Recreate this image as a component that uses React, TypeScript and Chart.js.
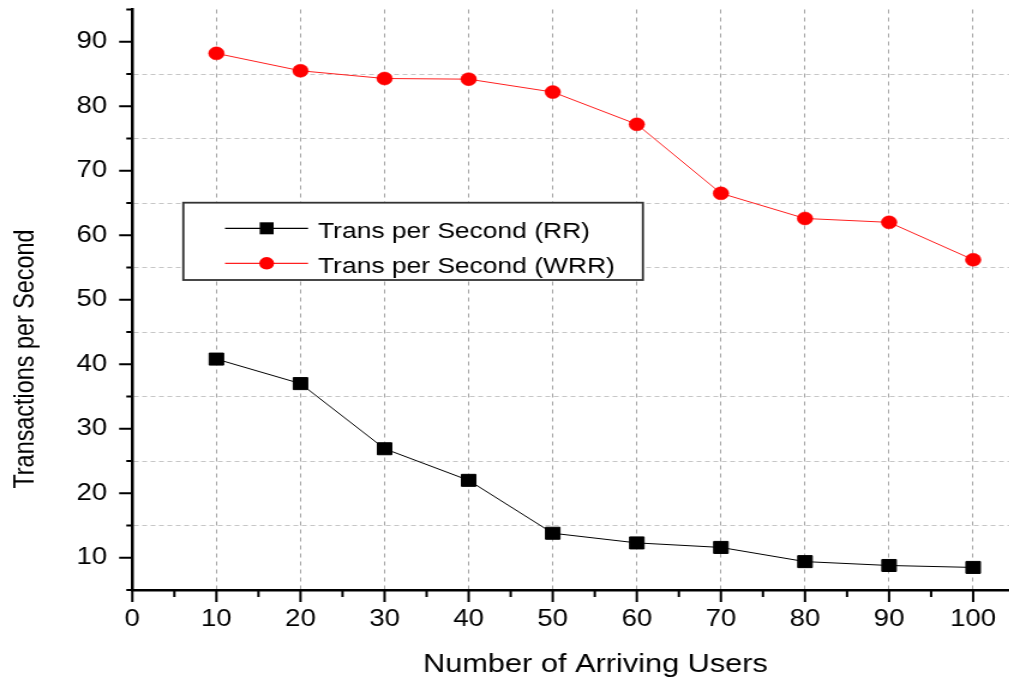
import { useEffect, useRef } from 'react';
import { Chart, registerables } from 'chart.js';

Chart.register(...registerables);

// ---- data ----
const arrivingUsers = [10, 20, 30, 40, 50, 60, 70, 80, 90, 100];
const transPerSecondRR = [40.8, 37.0, 26.9, 22.0, 13.8, 12.3, 11.6, 9.4, 8.8, 8.5];
const transPerSecondWRR = [88.2, 85.5, 84.3, 84.2, 82.2, 77.2, 66.5, 62.6, 62.0, 56.2];
const seriesNames = ['Trans per Second (RR)', 'Trans per Second (WRR)'];

const xTickLabels = ['0', '10', '20', '30', '40', '50', '60', '70', '80', '90', '100'];
const yTickLabels = ['10', '20', '30', '40', '50', '60', '70', '80', '90'];
const xAxisTitle = 'Number of Arriving Users';
const yAxisTitle = 'Transactions per Second';

// ---- layout ----
const STRETCH_X = 1.2; // the whole figure is drawn horizontally stretched
const CANVAS_W = 856;
const CANVAS_H = 681;
const FONT = '"Liberation Sans", Arial, Helvetica, sans-serif';

const toPoints = (ys: number[]) => arrivingUsers.map((x, i) => ({ x, y: ys[i] }));

// keep the plot area exactly where the layout padding puts it
const noScalePadding = (s: any) => {
  s.paddingTop = 0;
  s.paddingBottom = 0;
  s.paddingLeft = 0;
  s.paddingRight = 0;
};

// Tick marks (long majors, short minors), axis titles and a boxed legend.
const axisDecor = {
  id: 'axisDecor',
  afterDatasetsDraw(chart: any) {
    const { ctx } = chart;
    const ds = chart.data.datasets;
    ctx.save();
    const bx = 152.75;
    const by = 202.7;
    const bw = 383;
    const bh = 77.3;
    ctx.fillStyle = '#ffffff';
    ctx.fillRect(bx, by, bw, bh);
    ctx.strokeStyle = '#333333';
    ctx.lineWidth = 1.8;
    ctx.strokeRect(bx, by, bw, bh);

    const rows = [
      { y: 228.3, ty: 231.5 },
      { y: 263.3, ty: 266.5 },
    ];
    rows.forEach((r, i) => {
      const d = ds[i];
      ctx.strokeStyle = d.borderColor;
      ctx.lineWidth = 1.2;
      ctx.beginPath();
      ctx.moveTo(187.5, r.y);
      ctx.lineTo(256.7, r.y);
      ctx.stroke();
      ctx.fillStyle = d.pointBackgroundColor;
      if (i === 0) {
        ctx.fillRect(222.2 - 5.8, r.y - 6, 11.6, 12);
      } else {
        ctx.beginPath();
        ctx.arc(222.2, r.y, 6.2, 0, Math.PI * 2);
        ctx.fill();
      }
      ctx.fillStyle = '#000000';
      ctx.font = `22px ${FONT}`;
      ctx.textBaseline = 'middle';
      ctx.textAlign = 'left';
      ctx.fillText(d.label, 265, r.ty);
    });
    ctx.restore();
  },
  afterDraw(chart: any) {
    const { ctx } = chart;
    const x = chart.scales.x;
    const y = chart.scales.y;
    ctx.save();
    ctx.strokeStyle = '#000000';
    ctx.lineWidth = 2;
    ctx.beginPath();
    for (let v = x.min; v <= x.max + 1e-6; v += 5) {
      const px = x.getPixelForValue(v);
      const len = Math.round(v) % 10 === 0 ? 12 : 7;
      ctx.moveTo(px, x.top);
      ctx.lineTo(px, x.top + len);
    }
    for (let v = y.min; v <= y.max + 1e-6; v += 5) {
      const py = y.getPixelForValue(v);
      const len = Math.round(v) % 10 === 0 ? 11 : 5;
      ctx.moveTo(y.right, py);
      ctx.lineTo(y.right - len, py);
    }
    ctx.stroke();

    ctx.fillStyle = '#000000';
    ctx.textAlign = 'center';
    ctx.textBaseline = 'alphabetic';
    ctx.font = `25.6px ${FONT}`;
    ctx.fillText(xAxisTitle, 496.2, 671.7);

    ctx.translate(27.8, 359);
    ctx.rotate(-Math.PI / 2);
    ctx.font = `23.4px ${FONT}`;
    ctx.fillText(yAxisTitle, 0, 0);
    ctx.restore();
  },
};

export default function App() {
  const canvasRef = useRef<HTMLCanvasElement>(null);

  useEffect(() => {
    const canvas = canvasRef.current;
    if (!canvas) return;
    const chart = new Chart(canvas, {
      type: 'line',
      data: {
        datasets: [
          {
            label: seriesNames[0],
            data: toPoints(transPerSecondRR),
            borderColor: '#000000',
            borderWidth: 1,
            pointStyle: 'rect',
            pointRadius: 8.5,
            pointBorderWidth: 1,
            pointBackgroundColor: '#000000',
            pointBorderColor: '#000000',
            tension: 0,
          },
          {
            label: seriesNames[1],
            data: toPoints(transPerSecondWRR),
            borderColor: '#ff2020',
            borderWidth: 1,
            pointStyle: 'circle',
            pointRadius: 6.5,
            pointBorderWidth: 0.5,
            pointBackgroundColor: '#ff0000',
            pointBorderColor: '#ff0000',
            tension: 0,
          },
        ],
      },
      options: {
        responsive: false,
        animation: false,
        events: [],
        layout: { padding: { top: 9, right: 10, left: 0, bottom: 0 } },
        plugins: {
          legend: { display: false },
          tooltip: { enabled: false },
        },
        scales: {
          x: {
            type: 'linear',
            min: 0,
            max: 105,
            ticks: {
              stepSize: 5,
              autoSkip: false,
              maxRotation: 0,
              minRotation: 0,
              padding: 15.5,
              color: '#000000',
              font: { family: FONT, size: 23 },
              callback: (v: any) => {
                const s = String(v);
                return xTickLabels.includes(s) ? s : '';
              },
            },
            grid: {
              drawTicks: false,
              lineWidth: 1,
              color: (c: any) => {
                const v = c.tick ? c.tick.value : -1;
                return v > 0 && v <= 100 && v % 10 === 0 ? '#a4a4a4' : 'rgba(0,0,0,0)';
              },
            },
            border: { display: true, color: '#000000', width: 2.5, dash: [4, 4] },
            afterFit: (s: any) => {
              s.height = 91;
              noScalePadding(s);
            },
          },
          y: {
            type: 'linear',
            min: 5,
            max: 95,
            ticks: {
              stepSize: 5,
              autoSkip: false,
              padding: 21,
              color: '#000000',
              font: { family: FONT, size: 23 },
              callback: (v: any) => {
                const s = String(v);
                return yTickLabels.includes(s) ? s : '';
              },
            },
            grid: {
              drawTicks: false,
              lineWidth: 1,
              color: (c: any) => {
                const v = c.tick ? c.tick.value : -1;
                return v > 5 && v < 95 && v % 10 === 5 ? '#c6c6c6' : 'rgba(0,0,0,0)';
              },
            },
            border: { display: true, color: '#000000', width: 2.5, dash: [4, 3] },
            afterFit: (s: any) => {
              s.width = 110.25;
              noScalePadding(s);
            },
          },
        },
      },
      plugins: [axisDecor],
    } as any);
    return () => chart.destroy();
  }, []);

  return (
    <div
      style={{
        position: 'fixed',
        left: 0,
        top: 0,
        width: 1009,
        height: 681,
        overflow: 'hidden',
        background: '#ffffff',
      }}
    >
      <div
        style={{
          width: CANVAS_W,
          height: CANVAS_H,
          transform: `scaleX(${STRETCH_X})`,
          transformOrigin: '0 0',
        }}
      >
        <canvas ref={canvasRef} width={CANVAS_W} height={CANVAS_H} style={{ display: 'block' }} />
      </div>
    </div>
  );
}
